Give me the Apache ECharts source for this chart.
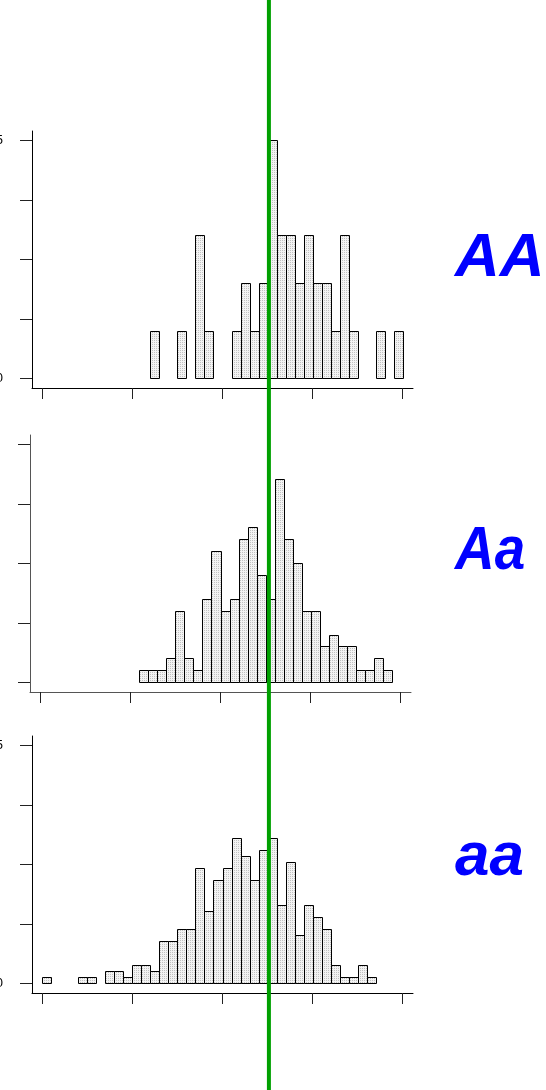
<!DOCTYPE html>
<html>
<head>
<meta charset="utf-8">
<script src="https://cdn.jsdelivr.net/npm/echarts@6/dist/echarts.min.js"></script>
<style>
  html, body { margin: 0; padding: 0; background: #fff; }
  #chart { width: 546px; height: 1090px; }
</style>
</head>
<body>
<div id="chart"></div>
<script>
// ---- data ----
const GENOTYPES = ['AA', 'Aa', 'aa'];
// counts per bin, bins 0..39 (bin width 1, in axis units)
const COUNTS_AA = [0,0,0,0,0,0,0,0,0,0, 0,0,1,0,0,1,0,3,1,0, 0,1,2,1,2,5,3,3,2,3, 2,2,1,3,1,0,0,1,0,1];
const COUNTS_Aa = [0,0,0,0,0,0,0,0,0,0, 0,1,1,1,2,6,2,1,7,11, 6,7,12,13,9,7,17,12,10,6, 6,3,4,3,3,1,1,2,1,0];
const COUNTS_aa = [1,0,0,0,1,1,0,2,2,1, 3,3,2,7,7,9,9,19,12,17, 19,24,21,17,22,24,13,20,8,13, 11,9,3,1,1,3,1,0,0,0];
const BIN_START = 0;
const BIN_WIDTH = 1;
const X_TICKS = [0, 10, 20, 30, 40];
const X_RANGE = [-1.14, 41.14];
// y is proportion of plants per bin
const Y_TICKS = [0, 0.032, 0.064, 0.096, 0.128];
const Y_LABELS = ['0', '', '', '', '5'];
const Y_RANGE = [-0.00512, 0.13312];
const MARKER_X = [25.15];

// ---- presentation ----
const panels = [
  { counts: COUNTS_AA, left: 32, top: 131, axisColor: '#000', labelY: 258.5, labelMargin: 29, fs: 62, sx: 1 },
  { counts: COUNTS_Aa, left: 30, top: 435, axisColor: '#555', labelY: 551.8, labelMargin: 32, fs: 61, sx: 0.9 },
  { counts: COUNTS_aa, left: 32, top: 736, axisColor: '#000', labelY: 857.8, labelMargin: 29, fs: 62, sx: 1 }
];
const GRID_W = 381, GRID_H = 257;

function makePattern() {
  const c = document.createElement('canvas');
  c.width = 2; c.height = 2;
  const ctx = c.getContext('2d');
  ctx.fillStyle = '#f3f3f3';
  ctx.fillRect(0, 0, 2, 2);
  ctx.fillStyle = '#c2c2c2';
  ctx.fillRect(0, 0, 1, 1);
  return { image: c, repeat: 'repeat' };
}
const pattern = makePattern();

const chart = echarts.init(document.getElementById('chart'), null, { renderer: 'canvas' });

const grid = [], xAxis = [], yAxis = [], series = [], graphic = [];
panels.forEach((p, i) => {
  grid.push({ left: p.left, top: p.top, width: GRID_W, height: GRID_H, containLabel: false, outerBoundsMode: 'none' });
  xAxis.push({
    gridIndex: i, type: 'value', min: X_RANGE[0], max: X_RANGE[1],
    axisLine: { show: true, onZero: false, lineStyle: { color: p.axisColor, width: 1 } },
    axisTick: { show: true, length: 11, customValues: X_TICKS, lineStyle: { color: '#222', width: 1 } },
    axisLabel: { show: false },
    splitLine: { show: false }
  });
  yAxis.push({
    gridIndex: i, type: 'value', min: Y_RANGE[0], max: Y_RANGE[1],
    axisLine: { show: true, onZero: false, lineStyle: { color: p.axisColor, width: 1 } },
    axisTick: { show: true, length: 12, customValues: Y_TICKS, lineStyle: { color: '#222', width: 1 } },
    axisLabel: {
      show: true, customValues: Y_TICKS, margin: p.labelMargin,
      fontFamily: 'Liberation Sans', fontSize: 13, color: '#000',
      formatter: (v) => { const k = Y_TICKS.indexOf(v); return k >= 0 ? Y_LABELS[k] : ''; }
    },
    splitLine: { show: false }
  });
  const N = p.counts.reduce((a, b) => a + b, 0);
  series.push({
    type: 'custom', xAxisIndex: i, yAxisIndex: i,
    data: p.counts.map((c, k) => [BIN_START + k * BIN_WIDTH, c / N]),
    renderItem: (params, api) => {
      const x = api.value(0), v = api.value(1);
      if (!v) return null;
      const a = api.coord([x, v]);
      const b = api.coord([x + BIN_WIDTH, 0]);
      const x0 = Math.round(a[0]) + 0.5, x1 = Math.round(b[0]) + 0.5;
      const y0 = Math.round(a[1]) + 0.5, y1 = Math.round(b[1]) + 0.5;
      return {
        type: 'rect',
        shape: { x: x0, y: y0, width: x1 - x0, height: y1 - y0 },
        style: { fill: pattern, stroke: '#000', lineWidth: 1 }
      };
    },
    silent: true, z: 2
  });
  graphic.push({
    type: 'text', x: 455, y: p.labelY, z: 20, scaleX: p.sx, scaleY: 1,
    style: {
      text: GENOTYPES[i], fill: '#0000ff',
      font: 'italic bold ' + p.fs + 'px "Liberation Sans", Arial, sans-serif',
      align: 'left', verticalAlign: 'middle'
    }
  });
});

// full-height overlay for the reference line
grid.push({ left: 32, top: 0, width: GRID_W, height: 1090, outerBoundsMode: 'none' });
xAxis.push({ gridIndex: 3, type: 'value', min: X_RANGE[0], max: X_RANGE[1], show: false });
yAxis.push({ gridIndex: 3, type: 'value', min: 0, max: 1, show: false });
series.push({
  type: 'line', xAxisIndex: 3, yAxisIndex: 3,
  data: [[MARKER_X[0], 0], [MARKER_X[0], 1]],
  symbol: 'none', silent: true, z: 10,
  lineStyle: { color: '#00a000', width: 4 }
});

chart.setOption({
  animation: false,
  backgroundColor: '#ffffff',
  grid, xAxis, yAxis, series, graphic
});
</script>
</body>
</html>
